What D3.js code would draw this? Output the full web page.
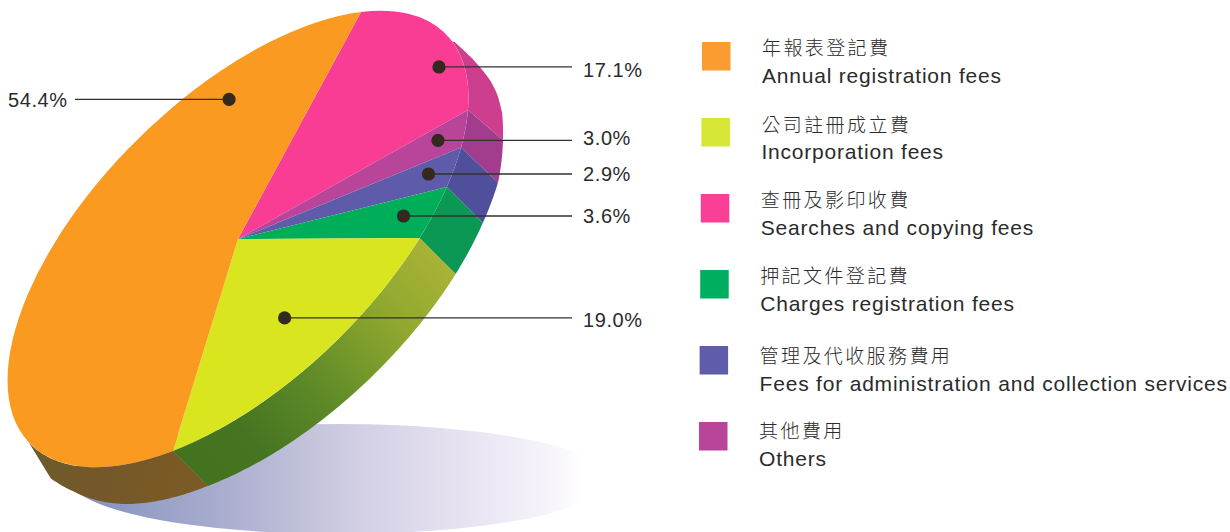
<!DOCTYPE html>
<html><head><meta charset="utf-8">
<script src="https://cdn.jsdelivr.net/npm/d3@7/dist/d3.min.js"></script>
<style>html,body{margin:0;padding:0;background:#fff}svg{display:block}
text{fill:#2b2b2b}
.en{font-family:"Liberation Sans",Arimo,sans-serif;font-size:21px;letter-spacing:.8px}
.zh{font-family:"Noto Sans CJK TC",sans-serif;font-size:19px;letter-spacing:2.4px;font-weight:300}
.pct{font-family:"Liberation Sans",sans-serif;font-size:20px;letter-spacing:.6px}
</style></head><body>
<script>
// Data (legend order)
const namesZh = ["年報表登記費","公司註冊成立費","查冊及影印收費","押記文件登記費","管理及代收服務費用","其他費用"];
const namesEn = ["Annual registration fees","Incorporation fees","Searches and copying fees","Charges registration fees","Fees for administration and collection services","Others"];
const shares = [54.4,19.0,17.1,3.6,2.9,3.0];
const colors = ["#fb9a20","#d9e61f","#f93d94","#00ae5a","#5f5bab","#b9459b"];
const legendColors = ["#fa9c30","#d6e635","#f93f96","#00ae5f","#5f5cab","#b9459b"];
const sideColors = ["url(#sideOrange)","url(#sideYellow)","#cd3f8e","#0a9854","#4f4f9b","#a23d8e"];
// Drawing order round the pie, clockwise from the top
const pieOrder = [2,5,4,3,1,0];
// Callouts: where each dot sits on the disc (degrees from first slice edge, fraction of radius)
const dotAngle = [325,129.1,40.4,89.1,77,66.5];
const dotRadius = [.81,.633,.9136,.841,.8756,.878];
const leaderEnd = [75,572,572,572,572,572];
const labelX = [8,583,583,583,583,583];
const labelDy = [0,2,3,0,0,-3];
const legendTextDy = [0,.5,0,0,4,3];

const W=1230,H=532;
const svg=d3.select("body").append("svg").attr("width",W).attr("height",H);
const defs=svg.append("defs");
function grad(id,x1,y1,x2,y2,stops){
  const g=defs.append("linearGradient").attr("id",id).attr("gradientUnits","userSpaceOnUse")
    .attr("x1",x1).attr("y1",y1).attr("x2",x2).attr("y2",y2);
  stops.forEach(s=>g.append("stop").attr("offset",s[0]).attr("stop-color",s[1]));
}
grad("shadow",90,0,585,0,[[0,"#8593bf"],[.3,"#aeb1d0"],[.55,"#d3d0e5"],[.8,"#ebe7f4"],[.93,"#f7f4fb"],[1,"#ffffff"]]);
grad("sideYellow",455,273,207,487,[[0,"#aab336"],[.25,"#8da72e"],[.55,"#5e8a28"],[.8,"#467521"],[1,"#43731f"]]);
grad("sideOrange",207,487,40,450,[[0,"#7c5b24"],[.6,"#75582a"],[1,"#6c5b2a"]]);

// Tilted disc: affine image of the unit circle, apex at centre
const cx=238,cy=239,ux=123,uy=-227,vx=194.9,vy=-23.8;
const rim=(a,r=1)=>[cx+r*(ux*Math.cos(a)+vx*Math.sin(a)),cy+r*(uy*Math.cos(a)+vy*Math.sin(a))];
const R=100;
const deg=Math.PI/180;
// Wall depth varies round the rim (perspective of the original)
const depthDeg=[36,40,45,50,55,61.5,72,83,96,165,190,205,213];
const depthXs=d3.scaleLinear().domain(depthDeg).range([3,16,27,31,34,35,37,36,36,35,35,30,22]);
const depthYs=d3.scaleLinear().domain(depthDeg).range([1,10,18,20,24,30,35,36,36,35,37,37,36]);
const wallFrom=36*deg, wallTo=213*deg;

// Shadow
svg.append("ellipse").attr("cx",340).attr("cy",479).attr("rx",270).attr("ry",55).attr("fill","url(#shadow)");

const pieGen=d3.pie().sort(null).value(i=>shares[i]);
const arcs=pieGen(pieOrder);
const arcGen=d3.arc().innerRadius(0).outerRadius(R);
const line=d3.line();

// Side wall of each slice, only where the wall faces the viewer
svg.append("g").selectAll("path").data(arcs).join("path")
  .attr("d",d=>{
    const a0=Math.max(d.startAngle,wallFrom),a1=Math.min(d.endAngle,wallTo);
    const n=Math.max(8,Math.ceil((a1-a0)*60));
    const ts=d3.range(n+1).map(i=>a0+(a1-a0)*i/n);
    const pts=ts.map(t=>rim(t)).concat(ts.slice().reverse().map(t=>{
      const p=rim(t);return [p[0]+depthXs(t/deg),p[1]+depthYs(t/deg)];}));
    return line(pts)+"Z";
  })
  .attr("fill",d=>sideColors[d.data]);

// Top face
svg.append("g").attr("transform",`matrix(${vx/R} ${vy/R} ${-ux/R} ${-uy/R} ${cx} ${cy})`)
  .selectAll("path").data(arcs).join("path")
  .attr("d",arcGen).attr("fill",d=>colors[d.data]);

// Callouts
const callouts=svg.append("g");
shares.forEach((s,i)=>{
  const p=rim(dotAngle[i]*deg,dotRadius[i]);
  callouts.append("line").attr("x1",p[0]).attr("y1",p[1]).attr("x2",leaderEnd[i]).attr("y2",p[1])
    .attr("stroke","#30302f").attr("stroke-width",1.3);
  callouts.append("circle").attr("cx",p[0]).attr("cy",p[1]).attr("r",6.6).attr("fill","#33291f");
  callouts.append("text").attr("class","pct").attr("x",labelX[i]).attr("y",p[1]+7.5+labelDy[i]).text(d3.format(".1f")(s)+"%");
});

// Legend
const legendY=d3.scaleLinear().domain([0,5]).range([42,422]);
const legendX=d3.scaleLinear().domain([0,5]).range([702,699]);
const leg=svg.append("g").selectAll("g").data(namesZh).join("g");
leg.append("rect").attr("x",(d,i)=>legendX(i)).attr("y",(d,i)=>legendY(i)).attr("width",28.5).attr("height",28.5).attr("fill",(d,i)=>legendColors[i]);
leg.append("text").attr("class","zh").attr("x",(d,i)=>legendX(i)+60).attr("y",(d,i)=>legendY(i)+13+legendTextDy[i]).text(d=>d);
leg.append("text").attr("class","en").attr("x",(d,i)=>legendX(i)+60).attr("y",(d,i)=>legendY(i)+40.5+legendTextDy[i]).text((d,i)=>namesEn[i]);
</script></body></html>
